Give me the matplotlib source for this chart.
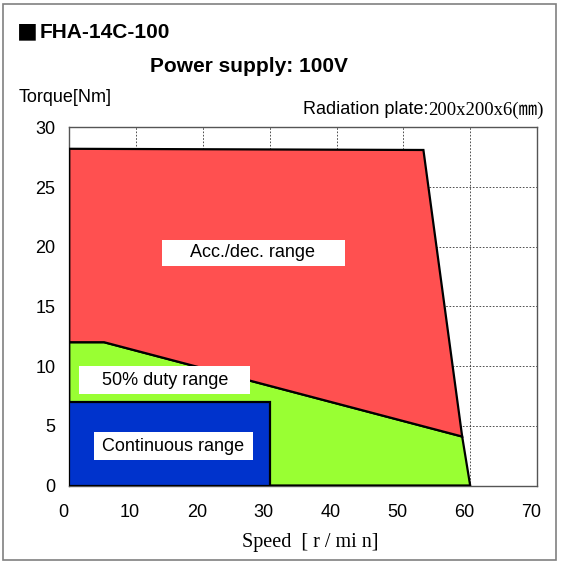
import matplotlib.pyplot as plt
from matplotlib.patches import Polygon, Rectangle
from matplotlib.transforms import ScaledTranslation

plt.rcParams["font.family"] = ["Liberation Sans", "DejaVu Sans"]

# speed [r/min], torque [Nm] for each operating range
accdec_speed = [0, 53, 58.8, 5.2, 0]
accdec_torque = [28.2, 28.1, 4.1, 12.0, 12.0]
duty_speed = [0, 5.2, 58.8, 60, 0]
duty_torque = [12.0, 12.0, 4.1, 0, 0]
cont_speed = [0, 30, 30, 0]
cont_torque = [0, 0, 7, 7]

x_ticks = [0, 10, 20, 30, 40, 50, 60, 70]
y_ticks = [0, 5, 10, 15, 20, 25, 30]

RED = "#ff5050"
GREEN = "#99ff33"
BLUE = "#0033cc"

W = H = 563
fig = plt.figure(figsize=(5.63, 5.63), dpi=100)
fig.patch.set_facecolor("white")

# outer frame
fig.patches.append(Rectangle((3 / W, 3 / H), 553 / W, 556 / H, transform=fig.transFigure,
                             fill=False, edgecolor="#808080", linewidth=1.2))

ax = fig.add_axes([69.3 / W, 1 - 485.5 / H, (537 - 69.3) / W, (485.5 - 127.3) / H])
ax.set_xlim(0, 70)
ax.set_ylim(0, 30)
ax.set_xticks(x_ticks)
ax.set_yticks(y_ticks)
ax.tick_params(axis="x", length=0, labelsize=13, pad=13)
ax.tick_params(axis="y", length=0, labelsize=13, pad=10)
# excel-ish: x labels sit a little left of their gridlines
shift = ScaledTranslation(-6 / 100, 0, fig.dpi_scale_trans)
for lab in ax.get_xticklabels():
    lab.set_transform(lab.get_transform() + shift)
ax.grid(True, color="#333333", linestyle=(0, (2, 2)), linewidth=0.6)
ax.set_axisbelow(True)
for s in ax.spines.values():
    s.set_color("#555555")
    s.set_linewidth(1.0)

ax.add_patch(Polygon(list(zip(duty_speed, duty_torque)), closed=True,
                     facecolor=GREEN, edgecolor="black", linewidth=1.6, zorder=3))
ax.add_patch(Polygon(list(zip(accdec_speed, accdec_torque)), closed=True,
                     facecolor=RED, edgecolor="black", linewidth=1.6, zorder=3))
ax.add_patch(Polygon(list(zip(cont_speed, cont_torque)), closed=True,
                     facecolor=BLUE, edgecolor="black", linewidth=1.6, zorder=4))

# label text, text centre (x, y), white box x-range, box height
labels = [
    ("Acc./dec. range", 27.4, 19.5, (13.8, 41.3), 2.15),
    ("50% duty range", 14.3, 8.8, (1.4, 27.0), 2.35),
    ("Continuous range", 15.6, 3.27, (3.7, 27.5), 2.35),
]
for txt, x, y, (x0, x1), h in labels:
    ax.add_patch(Rectangle((x0, y - h / 2), x1 - x0, h, facecolor="white",
                           edgecolor="none", zorder=5))
    ax.text(x, y, txt, ha="center", va="center", fontsize=13, zorder=6)

fig.text(17 / W, 1 - 33 / H, "■", fontsize=15, ha="left", va="center",
         family=["Noto Sans CJK JP", "DejaVu Sans"])
fig.text(40 / W, 1 - 33 / H, "FHA-14C-100", fontsize=15, fontweight="bold",
         ha="left", va="center")
fig.text(249 / W, 1 - 67 / H, "Power supply: 100V", fontsize=15, fontweight="bold",
         ha="center", va="center")
fig.text(19 / W, 1 - 98 / H, "Torque[Nm]", fontsize=13, ha="left", va="center")
fig.text(428 / W, 1 - 110 / H, "Radiation plate:", fontsize=13, ha="right", va="center")
fig.text(428 / W, 1 - 110 / H, "200x200x6(㎜)", fontsize=13.5, ha="left", va="center",
         family=["Liberation Serif", "Noto Sans CJK JP"])
fig.text(310 / W, 1 - 543 / H, "Speed  [ r / mi n]", fontsize=14.5, ha="center",
         va="center", family="Liberation Serif")

fig.savefig("out.png", dpi=100)
